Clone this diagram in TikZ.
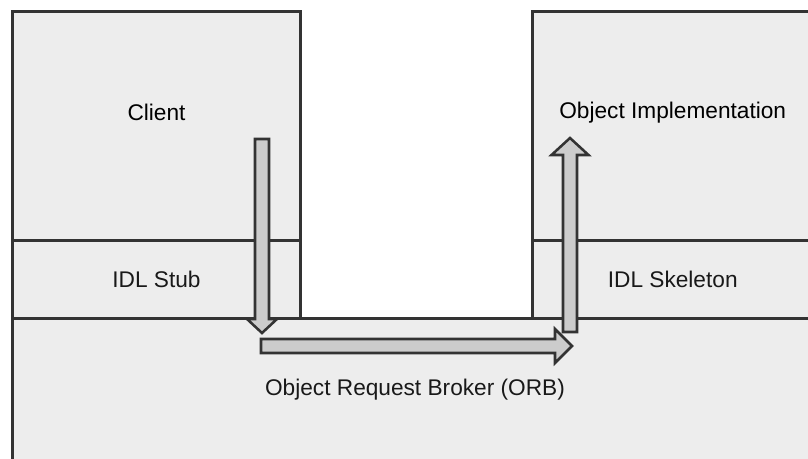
\documentclass[tikz,border=0pt]{standalone}
\usepackage{fontspec}
\setmainfont{Liberation Sans}
\usetikzlibrary{positioning}
\definecolor{edge}{HTML}{333333}
\definecolor{boxfill}{HTML}{EDEDED}
\definecolor{arrowfill}{HTML}{CCCCCC}

\begin{document}
\begin{tikzpicture}[x=0.75pt, y=-0.75pt, font=\fontsize{17}{20}\selectfont,
    layer/.style={draw=edge, fill=boxfill, line width=2.25pt, rectangle, inner sep=0pt, outer sep=0pt, text=black!90},
    fat/.style={draw=edge, fill=arrowfill, line width=1.9pt, line join=miter}]
    \useasboundingbox (0,0) rectangle (808,458);
    \clip (0,0) rectangle (808,458);
    % client side
    \node[layer, anchor=north west, minimum width=216pt, minimum height=171.375pt, label={[yshift=9.75pt]center:Client}] (client) at (12.5,11.5) {};
    \node[layer, below=0pt of client, minimum width=216pt, minimum height=58.5pt] (stub) {IDL Stub};
    % server side
    \node[layer, anchor=north west, minimum width=210.375pt, minimum height=171.375pt, label={[yshift=9.75pt]center:Object Implementation}] (impl) at (532.5,11.5) {};
    \node[layer, below=0pt of impl, minimum width=210.375pt, minimum height=58.5pt] (skel) {IDL Skeleton};
    % broker
    \node[layer, anchor=north west, minimum width=603.75pt, minimum height=108pt] (orb) at (12.5,318) {Object Request Broker (ORB)};
    % arrows
    \coordinate (calltop) at (262,139);
    \coordinate (orbtail) at (261,346);
    \coordinate (upfoot) at (570,332);
    \draw[fat] (calltop) ++(-7,0) -- ++(14,0) -- ++(0,180) -- ++(8,0) -- ++(-15,14) -- ++(-15,-14) -- ++(8,0) -- cycle;
    \draw[fat] (orbtail) ++(0,-7) -- ++(294,0) -- ++(0,-10) -- ++(17,17) -- ++(-17,17) -- ++(0,-10) -- ++(-294,0) -- cycle;
    \draw[fat] (upfoot) ++(-7,0) -- ++(0,-177) -- ++(-11.5,0) -- ++(18.5,-17) -- ++(18.5,17) -- ++(-11.5,0) -- ++(0,177) -- cycle;
\end{tikzpicture}
\end{document}
